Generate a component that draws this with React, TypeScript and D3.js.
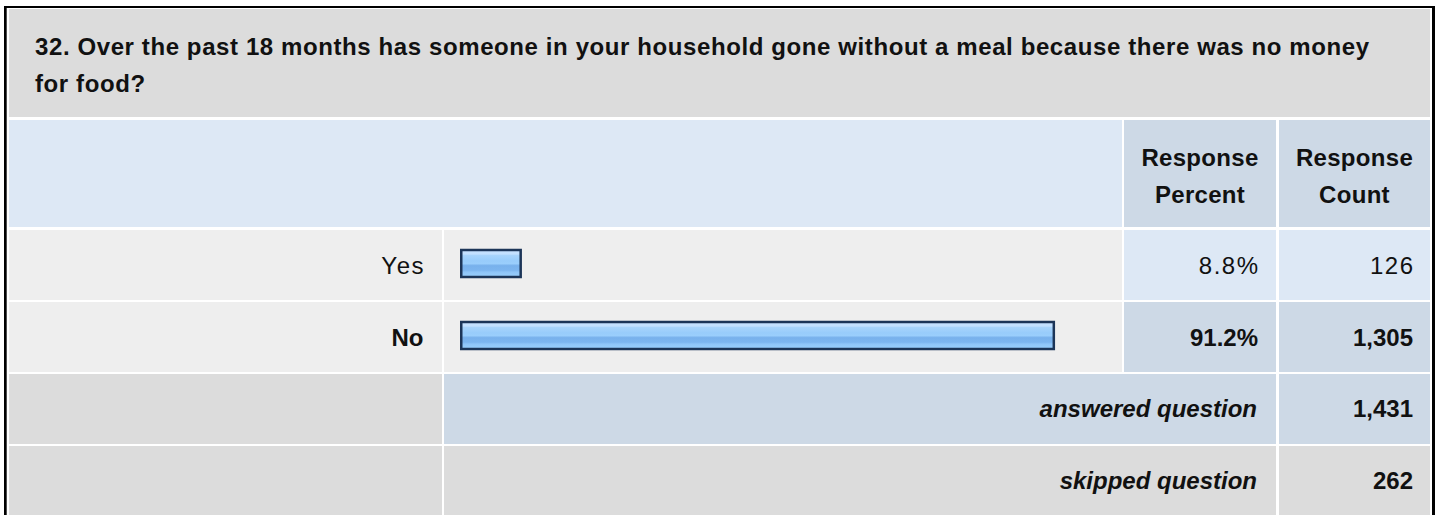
import React from "react";
import * as d3 from "d3";

const titleLines = [
  "32. Over the past 18 months has someone in your household gone without a meal because there was no money",
  "for food?",
];
const headerPercent = ["Response", "Percent"];
const headerCount = ["Response", "Count"];
const categories = ["Yes", "No"];
const percents = [8.8, 91.2];
const counts = [126, 1305];
const answeredLabel = "answered question";
const skippedLabel = "skipped question";
const answeredCount = 1431;
const skippedCount = 262;

const W = 1440;
const H = 515;
const FONT = "'Liberation Sans', Arial, Helvetica, sans-serif";
const FS = 24;

const C_TITLE = "#dcdcdc";
const C_LIGHTBLUE = "#dde8f5";
const C_BLUE = "#cdd9e6";
const C_ROW = "#eeeeee";

export default function App() {
  const col = {
    label: [9, 442],
    bar: [444, 1122],
    pct: [1124, 1276],
    cnt: [1279, 1430],
  };
  const yRow = d3
    .scaleBand<string>()
    .domain(categories)
    .range([230, 372])
    .paddingInner(2 / 72)
    .paddingOuter(0);
  const x = d3.scaleLinear().domain([0, 100]).range([0, 647]);
  const fmtCount = d3.format(",");
  const fmtPct = (v: number) => d3.format(".1f")(v) + "%";
  const maxIdx = d3.maxIndex(percents);

  const barX0 = 460;
  const sw = 2.5;
  const LS_REG = 1.5;

  const rect = (x0: number, x1: number, y0: number, y1: number, fill: string, key: string) => (
    <rect key={key} x={x0} y={y0} width={x1 - x0} height={y1 - y0} fill={fill} />
  );

  return (
    <svg
      width={W}
      height={H}
      style={{ position: "absolute", left: 0, top: 0, display: "block" }}
      fontFamily={FONT}
    >
      <defs>
        <linearGradient id="barGrad" x1="0" y1="0" x2="0" y2="1">
          <stop offset="0" stopColor="#c4e1ff" />
          <stop offset="0.15" stopColor="#c4e1ff" />
          <stop offset="0.2" stopColor="#a8d4fc" />
          <stop offset="0.4" stopColor="#98ccfb" />
          <stop offset="0.5" stopColor="#9acefc" />
          <stop offset="0.58" stopColor="#78b1ec" />
          <stop offset="0.75" stopColor="#7cb5ef" />
          <stop offset="0.82" stopColor="#8fc5f8" />
          <stop offset="1" stopColor="#98cffc" />
        </linearGradient>
      </defs>
      <rect x={0} y={0} width={W} height={H} fill="#ffffff" />
      <rect x={4} y={6} width={1431} height={H} fill="#000" />
      <rect x={6.7} y={8} width={1425.3} height={H} fill="#fff" />

      {rect(9, 1430, 9, 117, C_TITLE, "title")}
      <text fontSize={FS} fontWeight="bold" fill="#111" letterSpacing={0.6}>
        {titleLines.map((t, i) => (
          <tspan key={i} x={35} y={55 + i * 36.5}>
            {t}
          </tspan>
        ))}
      </text>

      {rect(col.label[0], col.bar[1], 120, 227, C_LIGHTBLUE, "h0")}
      {rect(col.pct[0], col.pct[1], 120, 227, C_BLUE, "h1")}
      {rect(col.cnt[0], col.cnt[1], 120, 227, C_BLUE, "h2")}
      <text fontSize={FS} fontWeight="bold" fill="#111" textAnchor="middle" letterSpacing={0.3}>
        {headerPercent.map((t, i) => (
          <tspan key={i} x={(col.pct[0] + col.pct[1]) / 2} y={166 + i * 37}>
            {t}
          </tspan>
        ))}
      </text>
      <text fontSize={FS} fontWeight="bold" fill="#111" textAnchor="middle" letterSpacing={0.3}>
        {headerCount.map((t, i) => (
          <tspan key={i} x={(col.cnt[0] + col.cnt[1]) / 2} y={166 + i * 37}>
            {t}
          </tspan>
        ))}
      </text>

      {categories.map((c, i) => {
        const y0 = yRow(c)!;
        const bw = yRow.bandwidth();
        const y1 = y0 + bw;
        const cy = y0 + bw / 2;
        const isMax = i === maxIdx;
        const cellFill = isMax ? C_BLUE : C_LIGHTBLUE;
        const weight = isMax ? "bold" : "normal";
        const ls = isMax ? 0 : LS_REG;
        const base = cy + 8.5;
        const bh = 29.5;
        const by = cy - 1.5 - bh / 2;
        return (
          <g key={c}>
            {rect(col.label[0], col.label[1], y0, y1, C_ROW, "l")}
            {rect(col.bar[0], col.bar[1], y0, y1, C_ROW, "b")}
            {rect(col.pct[0], col.pct[1], y0, y1, cellFill, "p")}
            {rect(col.cnt[0], col.cnt[1], y0, y1, cellFill, "n")}
            <text x={423.5 + ls} y={base} fontSize={FS} fontWeight={weight} textAnchor="end" fill="#111" letterSpacing={ls}>
              {c}
            </text>
            <rect
              x={barX0 + sw / 2}
              y={by + sw / 2}
              width={x(percents[i]) + 5 - sw}
              height={bh - sw}
              fill="url(#barGrad)"
              stroke="#1c3558"
              strokeWidth={sw}
            />
            <text x={1258 + ls} y={base} fontSize={FS} fontWeight={weight} textAnchor="end" fill="#111" letterSpacing={ls}>
              {fmtPct(percents[i])}
            </text>
            <text x={1413 + ls} y={base} fontSize={FS} fontWeight={weight} textAnchor="end" fill="#111" letterSpacing={ls}>
              {fmtCount(counts[i])}
            </text>
          </g>
        );
      })}

      {rect(col.label[0], col.label[1], 374, 444, C_TITLE, "a0")}
      {rect(col.bar[0], col.pct[1], 374, 444, C_BLUE, "a1")}
      {rect(col.cnt[0], col.cnt[1], 374, 444, C_BLUE, "a2")}
      <text x={1257} y={417} fontSize={FS} fontWeight="bold" fontStyle="italic" textAnchor="end" fill="#111">
        {answeredLabel}
      </text>
      <text x={1413} y={417} fontSize={FS} fontWeight="bold" textAnchor="end" fill="#111">
        {fmtCount(answeredCount)}
      </text>

      {rect(col.label[0], col.label[1], 446, 520, C_TITLE, "s0")}
      {rect(col.bar[0], col.pct[1], 446, 520, C_TITLE, "s1")}
      {rect(col.cnt[0], col.cnt[1], 446, 520, C_TITLE, "s2")}
      <text x={1257} y={489} fontSize={FS} fontWeight="bold" fontStyle="italic" textAnchor="end" fill="#111">
        {skippedLabel}
      </text>
      <text x={1413} y={489} fontSize={FS} fontWeight="bold" textAnchor="end" fill="#111">
        {fmtCount(skippedCount)}
      </text>
    </svg>
  );
}
